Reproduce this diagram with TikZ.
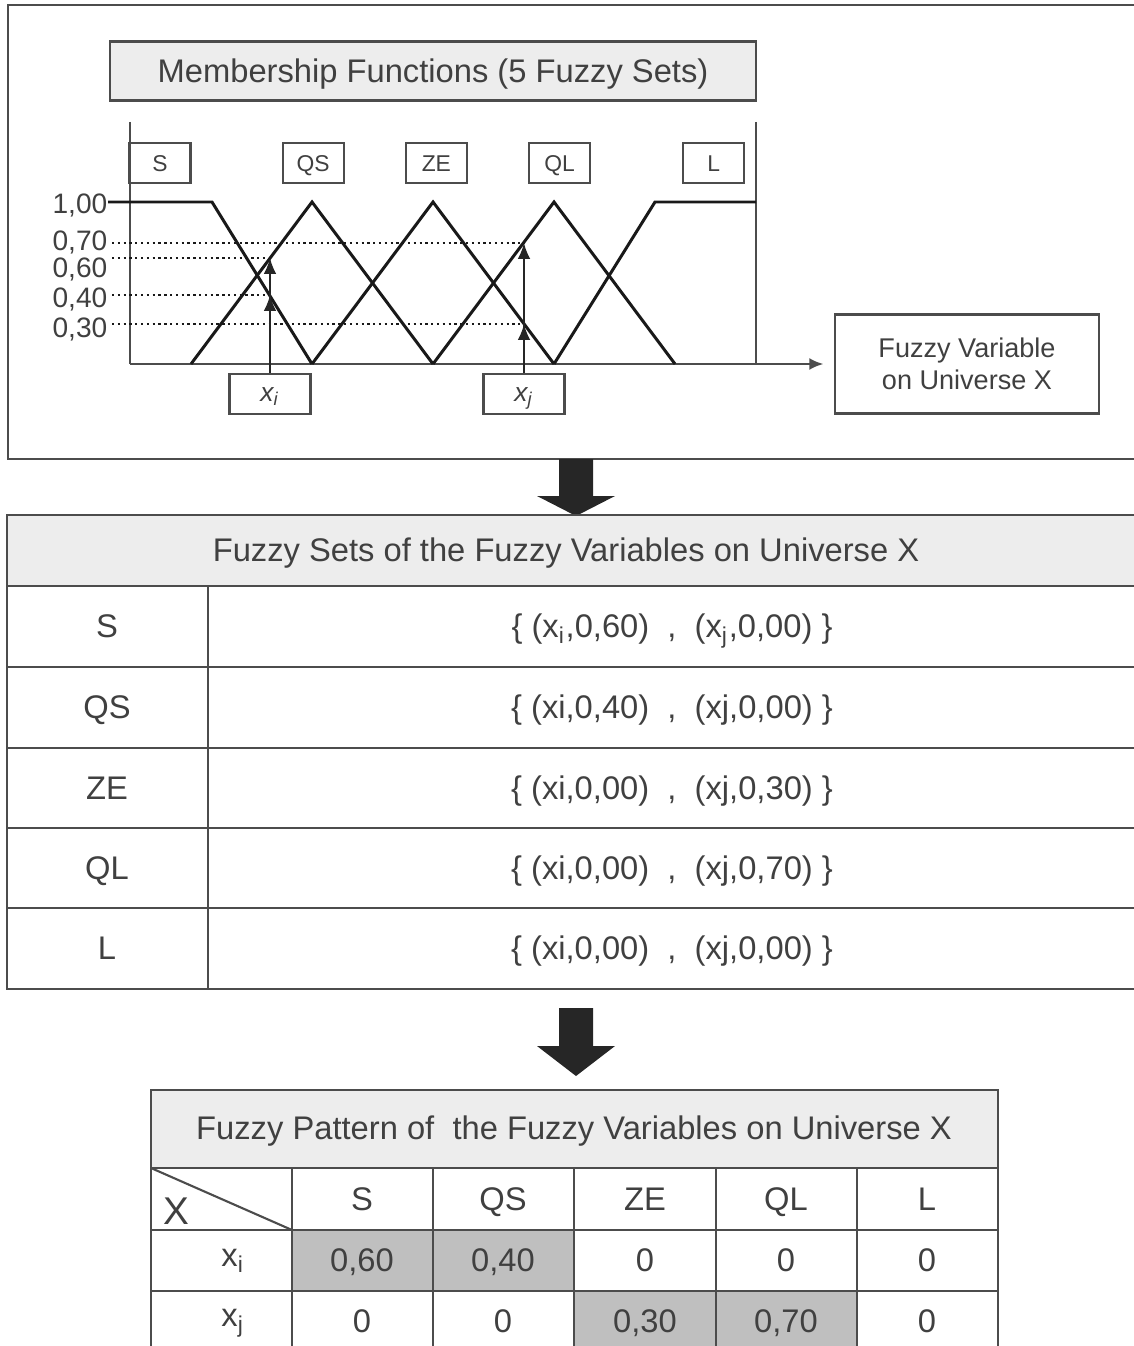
\documentclass[tikz,border=0pt]{standalone}
\usepackage{fontspec}
\setmainfont{Liberation Sans}
\usetikzlibrary{arrows.meta, positioning}
\tikzset{
	txt/.style={text=black!75, inner sep=0pt, text depth=0pt},
	cell/.style={txt, text height=6.7pt, font=\fontsize{9.3}{11}\selectfont},
	frame/.style={draw=black!70, line width=0.6pt},
	setbox/.style={frame, txt, text height=4.7pt, minimum width=0.61cm, minimum height=0.40cm, font=\fontsize{6.5}{7}\selectfont},
	inbox/.style={frame, txt, text height=4pt, minimum width=0.81cm, minimum height=0.40cm, font=\fontsize{7.5}{8}\selectfont\itshape},
	tick/.style={txt, text height=5.8pt, anchor=east, font=\fontsize{8}{9}\selectfont},
	mf/.style={line width=0.85pt, black!90},
	lvl/.style={densely dotted, line width=0.65pt, black!90},
	up/.style={draw=black!85, line width=0.6pt, -{Latex[length=4.5pt,width=3.6pt]}},
	head/.style={fill=black!7},
	hit/.style={fill=black!25},
	big/.style={fill=black!85},
}

\begin{document}
\begin{tikzpicture}[x=0.01cm, y=-0.01cm]
		\path[use as bounding box, clip] (0,0) rectangle (1134,1346);

		% membership functions
		\draw[frame] (8,5) rectangle (1140,459);
		\node(title) [frame, head, cell, minimum width=6.46cm, minimum height=0.59cm] at (433,71) {Membership Functions (5 Fuzzy Sets)};

		\node(s) [setbox] at (160,163) {S};
		\node(qs) [setbox, right=0.9cm of s] {QS};
		\node(ze) [setbox, right=0.6cm of qs] {ZE};
		\node(ql) [setbox, right=0.6cm of ze] {QL};
		\node(l) [setbox, right=0.91cm of ql] {L};

		\node(var) [frame, txt, align=center, minimum width=2.63cm, minimum height=0.99cm, font=\fontsize{7.7}{9.1}\selectfont] at (967,364) {Fuzzy Variable\\on Universe X};

		\coordinate(o) at (130,364);
		\draw[frame] (130,122) -- (o);
		\draw[frame] (756,122) -- (756,364);
		\draw[frame, -{Latex[length=4pt,width=3.4pt]}] (o) -- ([xshift=-0.11cm]var.west);

		\node(v100) [tick] at (108,203) {1,00};
		\node(v70) [tick] at (108,240) {0,70};
		\node(v60) [tick] at (108,267) {0,60};
		\node(v40) [tick] at (108,297) {0,40};
		\node(v30) [tick] at (108,327) {0,30};

		\coordinate(pi60) at (270,258);
		\coordinate(pi40) at (270,295);
		\coordinate(pj70) at (524,243);
		\coordinate(pj30) at (524,324);

		\draw[lvl] ([xshift=0.04cm]v70.east |- pj70) -- (pj70);
		\draw[lvl] ([xshift=0.04cm]v60.east |- pi60) -- (pi60);
		\draw[lvl] ([xshift=0.04cm]v40.east |- pi40) -- (pi40);
		\draw[lvl] ([xshift=0.04cm]v30.east |- pj30) -- (pj30);

		\draw[mf] (v100.east |- 0,202) -- (212,202) -- (312,364);
		\foreach \a in {191,312,433}
			\draw[mf] (\a,364) -- ++(121,-162) -- ++(121,162);
		\draw[mf] (554,364) -- (655,202) -- (756,202);

		\node(xi) [inbox] at (270,394) {x\textsubscript{i}};
		\node(xj) [inbox] at (524,394) {x\textsubscript{j}};
		\draw[up] (xi.north) -- (pi40);
		\draw[up] (xi.north) -- (pi60);
		\draw[up] (xj.north) -- (pj30);
		\draw[up] (xj.north) -- (pj70);

		\fill[big] (559,459) -- (593,459) -- (593,496) -- (615,496) -- (576,516) -- (537,496) -- (559,496) -- cycle;

		% fuzzy sets
		\fill[head] (7,515) rectangle (1140,586);
		\draw[frame] (7,515) rectangle (1140,989);
		\foreach \y in {586,667,748,828,908}
			\draw[frame] (7,\y) -- (1140,\y);
		\draw[frame] (208,586) -- (208,989);
		\node(sets) [cell] at (566,550) {Fuzzy Sets of the Fuzzy Variables on Universe X};

		\foreach \n/\y/\c in {S/626/{\{ (x\textsubscript{i},0,60)~~,~~(x\textsubscript{j},0,00) \}},
				QS/707/{\{ (xi,0,40)~~,~~(xj,0,00) \}},
				ZE/788/{\{ (xi,0,00)~~,~~(xj,0,30) \}},
				QL/868/{\{ (xi,0,00)~~,~~(xj,0,70) \}},
				L/948/{\{ (xi,0,00)~~,~~(xj,0,00) \}}} {
			\node(r\n) [cell] at (107,\y) {\n};
			\node(c\n) [cell] at (672,\y) {\c};
		}

		\fill[big] (559,1008) -- (593,1008) -- (593,1046) -- (615,1046) -- (576,1076) -- (537,1046) -- (559,1046) -- cycle;

		% fuzzy pattern
		\fill[head] (151,1090) rectangle (998,1168);
		\fill[hit] (292,1230) rectangle (574,1291);
		\fill[hit] (574,1291) rectangle (857,1360);
		\draw[frame] (151,1090) rectangle (998,1360);
		\foreach \y in {1168,1230,1291}
			\draw[frame] (151,\y) -- (998,\y);
		\foreach \x in {292,433,574,716,857}
			\draw[frame] (\x,1168) -- (\x,1360);
		\draw[frame] (151,1168) -- (292,1230);
		\node(pat) [cell] at (574,1128) {Fuzzy Pattern of \ the Fuzzy Variables on Universe X};
		\node(corner) [cell, text height=7.9pt, font=\fontsize{11}{12}\selectfont] at (176,1211) {X};

		\node(ri) [cell, text height=4.8pt] at (233,1258) {x\textsubscript{i}};
		\node(rj) [cell, text height=4.8pt] at (233,1318) {x\textsubscript{j}};
		\foreach \n/\x/\a/\b in {S/362/{0,60}/0, QS/503/{0,40}/0, ZE/645/0/{0,30}, QL/786/0/{0,70}, L/927/0/0} {
			\node(h\n) [cell] at (\x,1199) {\n};
			\node(i\n) [cell] at (\x,1260) {\a};
			\node(j\n) [cell] at (\x,1321) {\b};
		}

\end{tikzpicture}
\end{document}
